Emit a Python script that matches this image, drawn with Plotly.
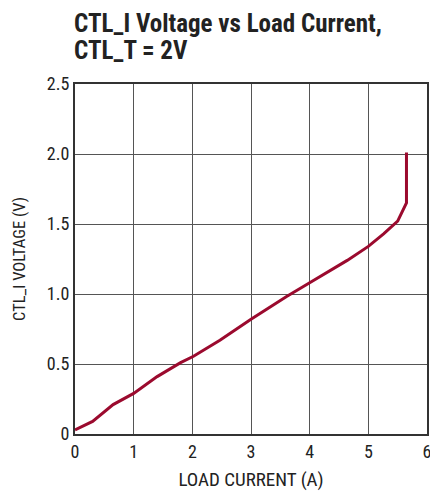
import plotly.graph_objects as go

load_current = [0.0, 0.3, 0.65, 1.0, 1.4, 1.8, 2.02, 2.47, 3.0, 3.6, 4.0, 4.64, 5.0, 5.26, 5.5, 5.65, 5.65]
ctl_i_voltage = [0.03, 0.09, 0.21, 0.29, 0.41, 0.51, 0.555, 0.67, 0.82, 0.98, 1.08, 1.24, 1.34, 1.43, 1.52, 1.65, 2.01]

x_ticks = [0, 1, 2, 3, 4, 5, 6]
y_ticks = [0, 0.5, 1.0, 1.5, 2.0, 2.5]
y_tick_labels = ["0", "0.5", "1.0", "1.5", "2.0", "2.5"]
title_lines = ["CTL_I Voltage vs Load Current,", "CTL_T = 2V"]

FONT = "Liberation Sans Narrow, Roboto Condensed, Arial Narrow, Liberation Sans, sans-serif"

fig = go.Figure(go.Scatter(x=load_current, y=ctl_i_voltage, mode="lines",
                           line=dict(color="#9b0a2e", width=3), showlegend=False,
                           hoverinfo="skip"))

fig.update_layout(
    width=430, height=491,
    margin=dict(l=75, r=3, t=84, b=57),
    paper_bgcolor="white", plot_bgcolor="white",
    font=dict(family=FONT, color="#222", size=18),
)
for line, shift in zip(title_lines, [44, 17]):
    fig.add_annotation(text="<b>" + line + "</b>",
                       xref="paper", yref="paper", x=-0.008, y=1.0, xanchor="left", yanchor="bottom",
                       yshift=shift, align="left", showarrow=False,
                       font=dict(family=FONT, size=25, color="#222"))
axis_common = dict(showgrid=True, gridcolor="#555", gridwidth=1, automargin=False,
                   showline=True, linecolor="#333", linewidth=2, mirror=True,
                   ticks="", zeroline=False, ticklabeloverflow="allow",
                   tickfont=dict(size=18, family=FONT, color="#222"))
fig.update_xaxes(range=[0, 6], tickvals=x_ticks, ticktext=[str(t) for t in x_ticks],
                 title=dict(text="LOAD CURRENT (A)", font=dict(size=19, family=FONT), standoff=13),
                 **axis_common)
fig.update_yaxes(range=[0, 2.5], tickvals=y_ticks, ticktext=y_tick_labels,
                 title=dict(text="CTL_I VOLTAGE (V)", font=dict(size=16.5, family=FONT), standoff=17),
                 **axis_common)

fig.write_html("out.html", config={"displayModeBar": False, "staticPlot": True},
               post_script="document.body.style.margin='0';document.body.style.overflow='hidden';")
